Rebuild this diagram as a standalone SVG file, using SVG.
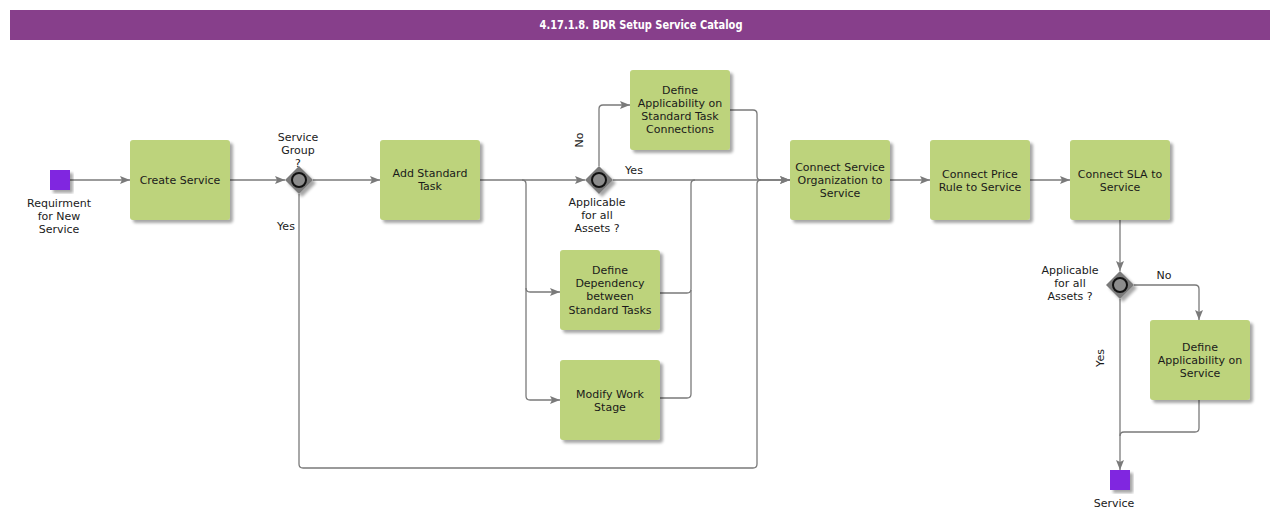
<svg xmlns="http://www.w3.org/2000/svg" width="1280" height="521" viewBox="0 0 1280 521">
<defs>
<filter id="sh" x="-20%" y="-20%" width="140%" height="140%">
<feGaussianBlur in="SourceAlpha" stdDeviation="1.5"/>
<feOffset dx="3" dy="3" result="o"/>
<feComponentTransfer><feFuncA type="linear" slope="0.35"/></feComponentTransfer>
<feMerge><feMergeNode/><feMergeNode in="SourceGraphic"/></feMerge>
</filter>
<marker id="ar" viewBox="0 0 10 10" refX="10" refY="5" markerWidth="10" markerHeight="10" markerUnits="userSpaceOnUse" orient="auto">
<path d="M0,1 L10,5 L0,9 L2,5 Z" fill="#7a7a7a"/>
</marker>
</defs>
<style>
.t{font-family:"DejaVu Sans",Verdana,sans-serif;font-size:11px;fill:#1a1a1a;text-anchor:middle}
.task{fill:#bdd37c}
.ev{fill:#8026e0}
.gw{fill:#7a7a7a}
.gc{fill:#8c8c8c;stroke:#111;stroke-width:2}
.c{fill:none;stroke:#7a7a7a;stroke-width:1.3}
</style>
<rect x="10" y="10" width="1260" height="30" fill="#873f8b"/>
<text x="641" y="29" textLength="203" lengthAdjust="spacingAndGlyphs" style="font-family:'Liberation Sans Narrow','DejaVu Sans Condensed',sans-serif;font-size:12px;font-weight:bold;fill:#fff;text-anchor:middle">4.17.1.8. BDR Setup Service Catalog</text>

<g id="connectors">
<path class="c" d="M70,180 H130" marker-end="url(#ar)"/>
<path class="c" d="M230,180 H285" marker-end="url(#ar)"/>
<path class="c" d="M313,180 H380" marker-end="url(#ar)"/>
<path class="c" d="M299,194 V464 Q299,468 303,468 H753 Q757,468 757,464 V184 Q757,180 761,180 H790" marker-end="url(#ar)"/>
<path class="c" d="M480,180 H585" marker-end="url(#ar)"/>
<path class="c" d="M522,180 Q526,180 526,184 V288 Q526,292 530,292 H560" marker-end="url(#ar)"/>
<path class="c" d="M526,288 V396 Q526,400 530,400 H560" marker-end="url(#ar)"/>
<path class="c" d="M599,166 V109 Q599,105 603,105 H630" marker-end="url(#ar)"/>
<path class="c" d="M613,180 H790" marker-end="url(#ar)"/>
<path class="c" d="M730,110 H753 Q757,110 757,114 V176 Q757,180 761,180"/>
<path class="c" d="M660,293 H687 Q691,293 691,289 V184 Q691,180 695,180"/>
<path class="c" d="M660,398 H687 Q691,398 691,394 V290"/>
<path class="c" d="M890,180 H930" marker-end="url(#ar)"/>
<path class="c" d="M1030,180 H1070" marker-end="url(#ar)"/>
<path class="c" d="M1120,220 V271" marker-end="url(#ar)"/>
<path class="c" d="M1134,285 H1195 Q1199,285 1199,289 V320" marker-end="url(#ar)"/>
<path class="c" d="M1120,299 V470" marker-end="url(#ar)"/>
<path class="c" d="M1199,400 V428 Q1199,432 1195,432 H1124 Q1120,432 1120,436"/>
<text class="t" x="634" y="174">Yes</text>
<text class="t" x="286" y="230">Yes</text>
<text class="t" x="1164" y="279">No</text>
<text class="t" transform="translate(583,140) rotate(-90)">No</text>
<text class="t" transform="translate(1104,358) rotate(-90)">Yes</text>
</g>

<g id="start">
<rect class="ev" x="50" y="170" width="20" height="20" filter="url(#sh)"/>
<text class="t" x="59" y="207">Requirment</text>
<text class="t" x="59" y="220">for New</text>
<text class="t" x="59" y="233">Service</text>
</g>
<g id="create-service">
<rect class="task" x="130" y="140" width="100" height="80" rx="3" filter="url(#sh)"/>
<text class="t" x="180" y="184">Create Service</text>
</g>
<g id="gw-service-group">
<path class="gw" d="M299,166 L313,180 L299,194 L285,180 Z" filter="url(#sh)"/>
<circle class="gc" cx="299" cy="180" r="7"/>
<text class="t" x="298" y="141">Service</text>
<text class="t" x="298" y="154">Group</text>
<text class="t" x="298" y="167">?</text>
</g>
<g id="add-standard-task">
<rect class="task" x="380" y="140" width="100" height="80" rx="3" filter="url(#sh)"/>
<text class="t" x="430" y="177">Add Standard</text>
<text class="t" x="430" y="190">Task</text>
</g>
<g id="gw-applicable-1">
<path class="gw" d="M599,166 L613,180 L599,194 L585,180 Z" filter="url(#sh)"/>
<circle class="gc" cx="599" cy="180" r="7"/>
<text class="t" x="597" y="206">Applicable</text>
<text class="t" x="597" y="219">for all</text>
<text class="t" x="597" y="232">Assets ?</text>
</g>
<g id="define-applicability-stc">
<rect class="task" x="630" y="70" width="100" height="80" rx="3" filter="url(#sh)"/>
<text class="t" x="680" y="94">Define</text>
<text class="t" x="680" y="107">Applicability on</text>
<text class="t" x="680" y="120">Standard Task</text>
<text class="t" x="680" y="133">Connections</text>
</g>
<g id="define-dependency">
<rect class="task" x="560" y="250" width="100" height="80" rx="3" filter="url(#sh)"/>
<text class="t" x="610" y="274">Define</text>
<text class="t" x="610" y="287">Dependency</text>
<text class="t" x="610" y="300">between</text>
<text class="t" x="610" y="314">Standard Tasks</text>
</g>
<g id="modify-work-stage">
<rect class="task" x="560" y="360" width="100" height="80" rx="3" filter="url(#sh)"/>
<text class="t" x="610" y="398">Modify Work</text>
<text class="t" x="610" y="411">Stage</text>
</g>
<g id="connect-org">
<rect class="task" x="790" y="140" width="100" height="80" rx="3" filter="url(#sh)"/>
<text class="t" x="840" y="171">Connect Service</text>
<text class="t" x="840" y="184">Organization to</text>
<text class="t" x="840" y="197">Service</text>
</g>
<g id="connect-price">
<rect class="task" x="930" y="140" width="100" height="80" rx="3" filter="url(#sh)"/>
<text class="t" x="980" y="178">Connect Price</text>
<text class="t" x="980" y="191">Rule to Service</text>
</g>
<g id="connect-sla">
<rect class="task" x="1070" y="140" width="100" height="80" rx="3" filter="url(#sh)"/>
<text class="t" x="1120" y="178">Connect SLA to</text>
<text class="t" x="1120" y="191">Service</text>
</g>
<g id="gw-applicable-2">
<path class="gw" d="M1120,271 L1134,285 L1120,299 L1106,285 Z" filter="url(#sh)"/>
<circle class="gc" cx="1120" cy="285" r="7"/>
<text class="t" x="1070" y="274">Applicable</text>
<text class="t" x="1070" y="287">for all</text>
<text class="t" x="1070" y="300">Assets ?</text>
</g>
<g id="define-applicability-service">
<rect class="task" x="1150" y="320" width="100" height="80" rx="3" filter="url(#sh)"/>
<text class="t" x="1200" y="351">Define</text>
<text class="t" x="1200" y="364">Applicability on</text>
<text class="t" x="1200" y="377">Service</text>
</g>
<g id="end">
<rect class="ev" x="1110" y="470" width="20" height="20" filter="url(#sh)"/>
<text class="t" x="1114" y="507">Service</text>
</g>
</svg>
